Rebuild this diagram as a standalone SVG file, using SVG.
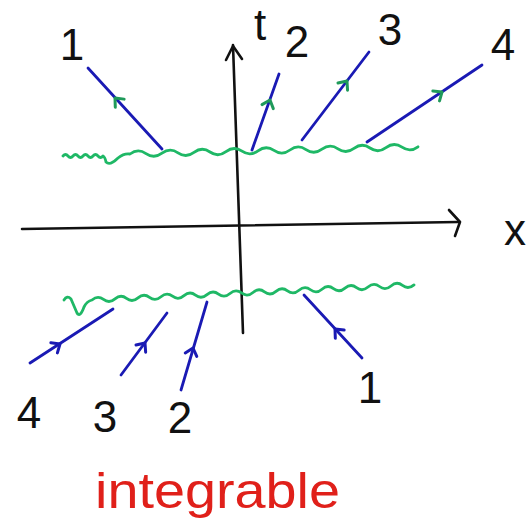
<svg xmlns="http://www.w3.org/2000/svg" width="529" height="532" viewBox="0 0 529 532">
<style>
.ax{stroke:#111;stroke-width:2.6;fill:none;stroke-linecap:round;stroke-linejoin:round}
.ray{stroke:#1a1ab4;stroke-width:2.8;fill:none;stroke-linecap:round}
.wave{stroke:#1fb866;stroke-width:2.8;fill:none;stroke-linecap:round;stroke-linejoin:round}
.chg{stroke:#1f9a5a;stroke-width:3;fill:none;stroke-linecap:round;stroke-linejoin:round}
.chb{stroke:#1a1ab4;stroke-width:3;fill:none;stroke-linecap:round;stroke-linejoin:round}
.lab{font-family:"Liberation Sans","DejaVu Sans",sans-serif;font-size:44px;fill:#111;text-anchor:middle}
.title{font-family:"Liberation Sans","DejaVu Sans",sans-serif;font-size:50px;fill:#e0201a}
</style>
<defs>
<path id="chev" d="M-7,-6 L0,0 L-7,6"/>
</defs>
<rect width="529" height="532" fill="#ffffff"/>
<g id="axes">
<path class="ax" d="M22,229 L458,222"/>
<path class="ax" d="M449,210 L460,222 L455,236"/>
<path class="ax" d="M233,45 L243,333"/>
<path class="ax" d="M226,60 L233,46 L242,59"/>
<text class="lab" x="260" y="40" font-size="46">t</text>
<text class="lab" x="515" y="245" font-size="36">x</text>
</g>
<g id="waves">
<path class="wave" d="M63,156 q2.5,-3 5,0 t5,0 t5,0 t5,0 t5,0 t5,0 t5,0 t5,0 Q105,157 106,162 Q110,166 118,158 Q124,153 130,154 q8,-6 16,-0.4 t16,-0.4 t16,-0.4 t16,-0.4 t16,-0.4 t16,-0.4 t16,-0.4 t16,-0.4 t16,-0.4 t16,-0.4 t16,-0.4 t16,-0.4 t16,-0.4 t16,-0.4 t16,-0.4 t16,-0.4 t16,-0.4 t16,-0.4"/>
<path class="wave" d="M64,300 Q67,295 71,299 L77,313 Q80,318 84,307 Q87,301 92,300 q5.75,-5 11.5,-0.54 t11.5,-0.54 t11.5,-0.54 t11.5,-0.54 t11.5,-0.54 t11.5,-0.54 t11.5,-0.54 t11.5,-0.54 t11.5,-0.54 t11.5,-0.54 t11.5,-0.54 t11.5,-0.54 t11.5,-0.54 t11.5,-0.54 t11.5,-0.54 t11.5,-0.54 t11.5,-0.54 t11.5,-0.54 t11.5,-0.54 t11.5,-0.54 t11.5,-0.54 t11.5,-0.54 t11.5,-0.54 t11.5,-0.54 t11.5,-0.54 t11.5,-0.54 t11.5,-0.54 t11.5,-0.54"/>
</g>
<g id="rays-top">
<path class="ray" d="M162,149 L88,68"/>
<use href="#chev" class="chg" transform="translate(115,98) rotate(-132.4)"/>
<path class="ray" d="M252,150 L279,74"/>
<use href="#chev" class="chg" transform="translate(270,100) rotate(-70.4)"/>
<path class="ray" d="M302,140 L369,52"/>
<use href="#chev" class="chg" transform="translate(347,81) rotate(-52.7)"/>
<path class="ray" d="M367,142 L482,65"/>
<use href="#chev" class="chg" transform="translate(442,92) rotate(-33.8)"/>
</g>
<g id="rays-bottom">
<path class="ray" d="M362,358 L304,295"/>
<use href="#chev" class="chb" transform="translate(335,329) rotate(-132.6)"/>
<path class="ray" d="M30,363 L113,309"/>
<use href="#chev" class="chb" transform="translate(60,344) rotate(-33)"/>
<path class="ray" d="M121,375 L167,313"/>
<use href="#chev" class="chb" transform="translate(145,343) rotate(-53.4)"/>
<path class="ray" d="M181,390 L207,302"/>
<use href="#chev" class="chb" transform="translate(193,348) rotate(-73.5)"/>
</g>
<g id="labels">
<text class="lab" x="72" y="60">1</text>
<text class="lab" x="297" y="57" font-size="38">2</text>
<text class="lab" x="390" y="45" font-size="34">3</text>
<text class="lab" x="503" y="60">4</text>
<text class="lab" x="29" y="428">4</text>
<text class="lab" x="105" y="432">3</text>
<text class="lab" x="180" y="433" font-size="42">2</text>
<text class="lab" x="370" y="403" font-size="48">1</text>
</g>
<text class="title" x="95" y="508" textLength="245" lengthAdjust="spacingAndGlyphs">integrable</text>
</svg>
